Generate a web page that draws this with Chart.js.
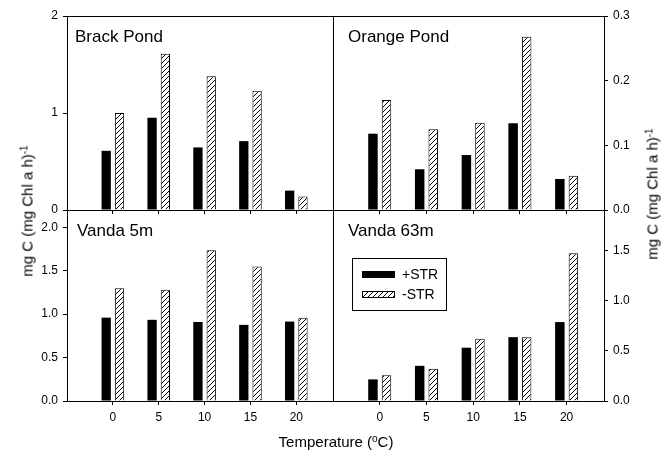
<!DOCTYPE html>
<html>
<head>
<meta charset="utf-8">
<script src="https://cdn.jsdelivr.net/npm/chart.js@4.4.1/dist/chart.umd.min.js"></script>
<style>
body { margin: 0; background: #fff; }
#wrap { position: relative; width: 665px; height: 453px; overflow: hidden; font-family: "Liberation Sans", Arial, sans-serif; color: #000; }
#wrap canvas { position: absolute; left: 0; top: 0; }
.ttl { position: absolute; font-size: 15px; line-height: 1; white-space: nowrap; }
.ttl sup { font-size: 10px; vertical-align: 0.55em; line-height: 0; }
.rot { transform: translate(-50%, -50%) rotate(-90deg); }
</style>
</head>
<body>
<div id="wrap">
  <canvas id="pBrack" width="665" height="453"></canvas>
  <canvas id="pOrange" width="665" height="453"></canvas>
  <canvas id="pVanda5" width="665" height="453"></canvas>
  <canvas id="pVanda63" width="665" height="453"></canvas>
  <div class="ttl rot" style="left:27px; top:211px;">mg C (mg Chl a h)<sup>-1</sup></div>
  <div class="ttl rot" style="left:652px; top:194px;">mg C (mg Chl a h)<sup>-1</sup></div>
  <div class="ttl" style="left:336px; top:434px; transform:translateX(-50%);">Temperature (<sup>o</sup>C)</div>
</div>
<script>
// temperatures (x categories)
const temps = [0, 5, 10, 15, 20];
const seriesNames = ['+STR', '-STR'];

// values
const brackPlus   = [0.61, 0.95, 0.645, 0.71, 0.20];
const brackMinus  = [1.00, 1.61, 1.38, 1.23, 0.14];
const orangePlus  = [0.118, 0.063, 0.085, 0.134, 0.048];
const orangeMinus = [0.170, 0.125, 0.135, 0.268, 0.053];
const vanda5Plus  = [0.96, 0.935, 0.91, 0.877, 0.915];
const vanda5Minus = [1.30, 1.28, 1.735, 1.55, 0.96];
const vanda63Plus = [0.215, 0.35, 0.53, 0.635, 0.785];
const vanda63Minus= [0.255, 0.32, 0.62, 0.635, 1.47];

// y tick labels per panel
const brackTicks   = [0, 1, 2];
const orangeTicks  = [0, 0.1, 0.2, 0.3];
const vanda5Ticks  = [0, 0.5, 1, 1.5, 2];
const vanda63Ticks = [0, 0.5, 1, 1.5];

const FONT = '"Liberation Sans", Arial, sans-serif';

function hatchPattern() {
    const c = document.createElement('canvas');
    c.width = 5; c.height = 5;
    const g = c.getContext('2d');
    g.fillStyle = '#fff';
    g.fillRect(0, 0, 5, 5);
    g.strokeStyle = '#000';
    g.lineWidth = 1;
    g.beginPath();
    g.moveTo(-1, 6); g.lineTo(6, -1);
    g.moveTo(-1, 1); g.lineTo(1, -1);
    g.moveTo(4, 6); g.lineTo(6, 4);
    g.stroke();
    return document.createElement('canvas').getContext('2d').createPattern(c, 'repeat');
}
const hatch = hatchPattern();

// box around each panel + panel name
const panelPlugin = {
    id: 'panelDeco',
    afterDraw(chart, args, opts) {
        const ctx = chart.ctx;
        const a = chart.chartArea;
        ctx.save();
        ctx.strokeStyle = '#000';
        ctx.lineWidth = 1;
        ctx.strokeRect(Math.round(a.left) + 0.5, Math.round(a.top) + 0.5,
            Math.round(a.right - a.left), Math.round(a.bottom - a.top));
        ctx.fillStyle = '#000';
        ctx.font = '17px ' + FONT;
        ctx.textBaseline = 'alphabetic';
        ctx.fillText(opts.text, a.left + opts.dx, a.top + opts.dy);

        if (opts.legend) {
            const lx = a.left + 19, ly = a.top + 48;
            ctx.strokeRect(lx + 0.5, ly + 0.5, 94, 52);
            ctx.font = '14px ' + FONT;
            chart.data.datasets.forEach((ds, i) => {
                const sy = ly + 13 + i * 20;
                ctx.fillStyle = ds.backgroundColor;
                ctx.fillRect(lx + 10, sy, 33, 7);
                if (ds.borderWidth) {
                    ctx.strokeStyle = ds.borderColor;
                    ctx.strokeRect(lx + 10.5, sy + 0.5, 32, 6);
                }
                ctx.fillStyle = '#000';
                ctx.fillText(ds.label, lx + 50, sy + 8);
            });
        }
        ctx.restore();
    }
};

function makePanel(id, o) {
    return new Chart(document.getElementById(id), {
        type: 'bar',
        data: {
            datasets: [{
                label: seriesNames[0],
                data: temps.map((t, i) => ({ x: t, y: o.plus[i] })),
                backgroundColor: '#000',
                borderWidth: 0
            }, {
                label: seriesNames[1],
                data: temps.map((t, i) => ({ x: t, y: o.minus[i] })),
                backgroundColor: hatch,
                borderColor: '#000',
                borderWidth: 1
            }]
        },
        options: {
            responsive: false,
            animation: false,
            events: [],
            categoryPercentage: 0.58,
            barPercentage: 0.7,
            layout: { padding: o.pad },
            plugins: {
                legend: { display: false },
                tooltip: { enabled: false },
                panelDeco: { text: o.name, dx: o.dx, dy: 26, legend: !!o.legend }
            },
            scales: {
                x: {
                    type: 'linear',
                    min: -5, max: 24,
                    offset: false,
                    grid: { offset: false, drawOnChartArea: false, tickLength: 4, color: '#000' },
                    border: { display: false },
                    afterBuildTicks: s => { s.ticks = temps.map(v => ({ value: v })); },
                    afterFit: s => { s.height = o.showX ? 26 : 8; },
                    ticks: {
                        display: o.showX,
                        autoSkip: false,
                        maxRotation: 0,
                        padding: 5,
                        color: '#000',
                        font: { family: FONT, size: 12 }
                    }
                },
                y: {
                    position: o.side,
                    min: 0, max: o.max,
                    grid: { drawOnChartArea: false, tickLength: 4, color: '#000' },
                    border: { display: false },
                    afterBuildTicks: s => { s.ticks = o.ticks.map(v => ({ value: v })); },
                    afterFit: s => { s.width = 40; },
                    ticks: {
                        padding: 5,
                        color: '#000',
                        font: { family: FONT, size: 12 },
                        callback: v => v.toFixed(o.dec)
                    }
                }
            }
        },
        plugins: [panelPlugin]
    });
}

makePanel('pBrack', {
    name: 'Brack Pond', plus: brackPlus, minus: brackMinus, ticks: brackTicks,
    max: 2, dec: 0, side: 'left', showX: false, dx: 8,
    pad: { left: 27, right: 332, top: 16, bottom: 235 }
});
makePanel('pOrange', {
    name: 'Orange Pond', plus: orangePlus, minus: orangeMinus, ticks: orangeTicks,
    max: 0.3, dec: 1, side: 'right', showX: false, dx: 15,
    pad: { left: 333, right: 21, top: 16, bottom: 235 }
});
makePanel('pVanda5', {
    name: 'Vanda 5m', plus: vanda5Plus, minus: vanda5Minus, ticks: vanda5Ticks,
    max: 2.2, dec: 1, side: 'left', showX: true, dx: 10,
    pad: { left: 27, right: 332, top: 210, bottom: 26 }
});
makePanel('pVanda63', {
    name: 'Vanda 63m', plus: vanda63Plus, minus: vanda63Minus, ticks: vanda63Ticks,
    max: 1.9, dec: 1, side: 'right', showX: true, dx: 15, legend: true,
    pad: { left: 333, right: 21, top: 210, bottom: 26 }
});
</script>
</body>
</html>
